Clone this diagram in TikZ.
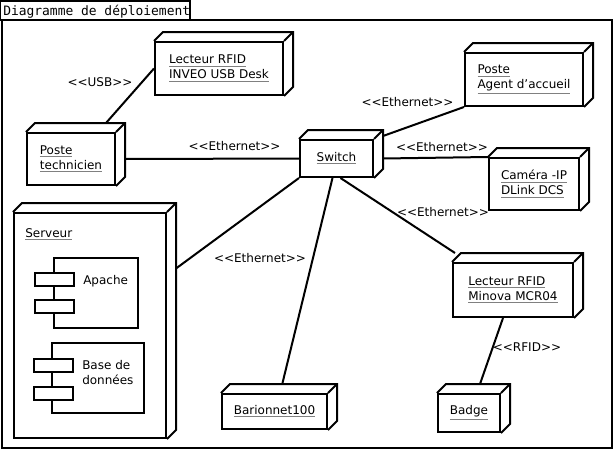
\documentclass[tikz,border=0pt]{standalone}
\usepackage{fontspec}
\setmainfont{DejaVu Sans}
\newfontfamily\titlefont{DejaVu Sans Mono}
\usetikzlibrary{calc}

% underlined node name, gray rule
\newcommand{\undl}[1]{\rlap{\color{gray}\underline{\phantom{#1}}}#1}
\newcommand{\stereo}[1]{<\kern0pt<#1>\kern0pt>}
% top and right faces of a node box
\newcommand{\extrude}[1]{%
  \draw[edge] (#1.north west) -- ++(9,-9) -| ($(#1.south east)+(9,-9)$) -- (#1.south east);
  \draw[edge] (#1.north east) -- ++(9,-9);}

\tikzset{
  edge/.style={line width=1.5pt},
  unode/.style 2 args={draw, line width=1.5pt, fill=white, align=left, inner sep=0pt,
    minimum width=#1*0.75pt, minimum height=#2*0.75pt},
  port/.style={draw, line width=1.5pt, fill=white, inner sep=0pt,
    minimum width=39*0.75pt, minimum height=13*0.75pt},
}

\begin{document}
\begin{tikzpicture}[x=0.75pt, y=-0.75pt, font=\fontsize{9}{11.25}\selectfont]
  \useasboundingbox (0,0) rectangle (614,450);
  % frame
  \draw[line width=1.5pt] (2,20) rectangle (612,448);
  \node[anchor=base west, inner sep=0pt, font=\titlefont\fontsize{9.7}{12}\selectfont] (titre) at (3,15) {Diagramme de déploiement};
  \draw[line width=1.2pt] (0,1) rectangle (190,20);

  \node[unode={128}{53}] (inveo) at (219,68.5) {\undl{Lecteur RFID}\\\undl{INVEO USB Desk}};
  \node[unode={88}{52}] (tech) at (71,159) {\undl{Poste}\\\undl{technicien}};
  \node[unode={73}{37}] (switch) at (336.5,158.5) {\undl{Switch}};
  \node[unode={118}{53}] (agent) at (524,79.5) {\undl{Poste}\\\undl{Agent d'accueil}};
  \node[unode={90}{52}] (camera) at (534,184) {\undl{Caméra -IP}\\\undl{DLink DCS}};
  \node[unode={152}{225}] (serveur) at (90,325.5) {};
  \node[unode={120}{54}] (minova) at (513,290) {\undl{Lecteur RFID}\\\undl{Minova MCR04}};
  \node[unode={105}{35}] (barionnet) at (274.5,411.5) {\undl{Barionnet100}};
  \node[unode={62}{38}] (badge) at (469,413) {\undl{Badge}};
  \foreach \n in {inveo, tech, switch, agent, camera, serveur, minova, barionnet, badge}
    {\extrude{\n}}

  % components of the server
  \node[anchor=base west, inner sep=0pt] (srvlabel) at (25,237) {\undl{Serveur}};
  \node[draw, line width=1.5pt, minimum width=84*0.75pt, minimum height=70*0.75pt] (apache) at (96,293) {};
  \node[port] (apache1) at (54.5,279.5) {};
  \node[port] (apache2) at (54.5,306) {};
  \node[anchor=base west, inner sep=0pt] (apachetxt) at (83,284) {Apache};
  \node[draw, line width=1.5pt, minimum width=92*0.75pt, minimum height=70*0.75pt] (bdd) at (98,378) {};
  \node[port] (bdd1) at (53,365) {};
  \node[port] (bdd2) at (53,393) {};
  \node[anchor=north west, align=left, inner sep=0pt] (bddtxt) at (82,360) {Base de\\données};

  % links
  \draw[edge] ([shift={(-10,-9)}]tech.north east) -- (inveo.west);
  \draw[edge] ([shift={(9,0)}]tech.east) -- (switch.west);
  \draw[edge] ([shift={(9,-3)}]switch.north east) -- (agent.south west);
  \draw[edge] ([shift={(9,0)}]switch.east) -- (camera.north west);
  \draw[edge] ([shift={(4,0)}]switch.south) -- ([shift={(3,-9)}]minova.north west);
  \draw[edge] ([shift={(-4,0)}]switch.south) -- ([shift={(8,-10)}]barionnet.north);
  \draw[edge] (switch.south west) -- ([shift={(9,-57)}]serveur.east);
  \draw[edge] ([shift={(-10,0)}]minova.south) -- ([shift={(11,-9)}]badge.north);

  \node (lusb) at (100,82) {\stereo{USB}};
  \node (ltech) at (234.5,146) {\stereo{Ethernet}};
  \node (lagent) at (407.5,102) {\stereo{Ethernet}};
  \node (lcam) at (442,147) {\stereo{Ethernet}};
  \node (lminova) at (443,212) {\stereo{Ethernet}};
  \node (lbario) at (260,258) {\stereo{Ethernet}};
  \node (lrfid) at (527,347) {\stereo{RFID}};
\end{tikzpicture}
\end{document}
